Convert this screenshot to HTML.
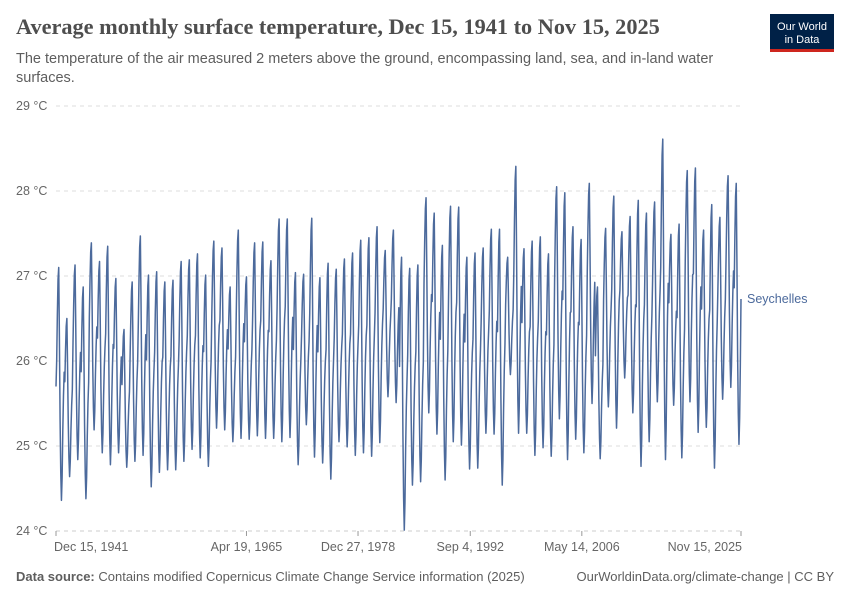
<!DOCTYPE html>
<html><head><meta charset="utf-8">
<style>
body{margin:0;background:#fff;font-family:"Liberation Sans",sans-serif;}
#wrap{position:relative;width:850px;height:600px;overflow:hidden;}
</style></head>
<body>
<div id="wrap">
<svg id="svg" width="850" height="600" xmlns="http://www.w3.org/2000/svg">
<text x="16" y="34" font-family="Liberation Serif,serif" font-size="22.3" font-weight="bold" fill="#4e4e4e">Average monthly surface temperature, Dec 15, 1941 to Nov 15, 2025</text>
<text x="16" y="63" font-size="14.5" fill="#5e5e5e">The temperature of the air measured 2 meters above the ground, encompassing land, sea, and in-land water</text>
<text x="16" y="82" font-size="14.5" fill="#5e5e5e">surfaces.</text>
<g>
<rect x="770" y="14" width="64" height="38" fill="#002147"/>
<rect x="770" y="49" width="64" height="3" fill="#ce261e"/>
<text x="802" y="30" font-size="11" fill="#fff" text-anchor="middle">Our World</text>
<text x="802" y="43" font-size="11" fill="#fff" text-anchor="middle">in Data</text>
</g>
<g id="grid"></g>
<g id="yaxis"></g>
<g id="xaxis"></g>
<path id="line" fill="none" stroke="#4c6a9c" stroke-width="1.5" stroke-linejoin="round"/>
<text id="lbl" x="747" y="303" font-size="12.5" fill="#4c6a9c">Seychelles</text>
<text x="16" y="581" font-size="13" fill="#5e5e5e"><tspan font-weight="bold">Data source:</tspan> Contains modified Copernicus Climate Change Service information (2025)</text>
<text x="834" y="581" font-size="13" fill="#5e5e5e" text-anchor="end">OurWorldinData.org/climate-change | CC BY</text>
</svg>
</div>
<script>
const yTicks=[24,25,26,27,28,29];
const yTickLabels=["24 °C","25 °C","26 °C","27 °C","28 °C","29 °C"];
const xTickMonths=[0,280,444,609,773,1007];
const xTickLabels=["Dec 15, 1941","Apr 19, 1965","Dec 27, 1978","Sep 4, 1992","May 14, 2006","Nov 15, 2025"];
const startValue=25.7;
const annualPeak=[27.1,26.5,27.13,26.87,27.39,27.17,27.35,26.97,26.37,26.93,27.47,27.01,27.05,26.93,26.95,27.17,27.19,27.26,27.01,27.41,27.33,26.87,27.54,26.99,27.39,27.4,27.18,27.67,27.67,27.04,27.02,27.68,26.98,27.15,27.08,27.2,27.27,27.42,27.45,27.58,27.3,27.54,27.22,27.09,27.13,27.92,27.74,27.36,27.82,27.81,27.22,27.27,27.33,27.55,27.55,27.22,28.29,27.32,27.41,27.46,27.26,28.05,27.98,27.58,27.43,28.09,26.87,27.56,27.94,27.52,27.7,27.89,27.74,27.87,28.61,27.49,27.61,28.24,28.27,27.54,27.84,27.69,28.18,28.09];
const annualLow=[24.36,24.64,24.84,24.38,25.19,24.92,24.78,24.92,24.75,24.82,24.89,24.52,24.69,24.72,24.72,24.82,24.96,24.86,24.76,25.21,25.19,25.05,25.09,25.08,25.12,25.09,25.09,25.05,25.1,24.78,25.25,24.87,24.8,24.61,25.05,24.99,24.89,24.92,24.88,25.04,25.58,25.51,24.01,24.54,24.58,25.39,25.14,24.6,25.05,25.01,24.73,24.74,25.15,25.14,24.54,25.84,25.15,25.15,24.89,24.98,24.88,25.32,24.84,25.08,24.92,25.5,24.85,25.46,25.21,25.8,25.39,24.76,25.05,25.52,24.84,25.48,24.86,25.52,25.16,25.22,24.74,25.55,25.69,25.02];
const seasonShape=[0.6,0.8,0.95,1.0,0.7,0.35,0.12,0,0.1,0.3,0.45,0.55];
const lastValue=26.73;

const NS="http://www.w3.org/2000/svg";
const x0=56,x1=741,y0=531,y1=106;
const totalMonths=1007;
const xScale=m=>x0+(x1-x0)*m/totalMonths;
const yScale=v=>y0-(v-24)/(29-24)*(y0-y1);

const series=[startValue];
for(let i=0;i<annualPeak.length;i++){
  for(let m=0;m<12;m++){
    if(series.length>totalMonths) break;
    series.push(annualLow[i]+seasonShape[m]*(annualPeak[i]-annualLow[i]));
  }
}
series[totalMonths]=lastValue;

const grid=document.getElementById('grid');
const yax=document.getElementById('yaxis');
yTicks.forEach((t,i)=>{
  const y=yScale(t);
  if(i>0){
  const l=document.createElementNS(NS,'line');
  
  
  l.setAttribute('x1',x0);l.setAttribute('x2',x1);l.setAttribute('y1',y);l.setAttribute('y2',y);
  l.setAttribute('stroke','#ddd');l.setAttribute('stroke-dasharray','4,4');
  grid.appendChild(l);}
  const tx=document.createElementNS(NS,'text');
  
  
  tx.setAttribute('x',16);tx.setAttribute('y',y+4);
  tx.setAttribute('font-size','12.5');tx.setAttribute('fill','#666');
  tx.textContent=yTickLabels[i];
  yax.appendChild(tx);
});
const base=document.createElementNS(NS,'line');


base.setAttribute('x1',x0);base.setAttribute('x2',x1);base.setAttribute('y1',y0);base.setAttribute('y2',y0);
base.setAttribute('stroke','#ccc');base.setAttribute('stroke-dasharray','4,4');
grid.appendChild(base);
const xax=document.getElementById('xaxis');
xTickMonths.forEach((m,i)=>{
  const x=xScale(m);
  const tk=document.createElementNS(NS,'line');
  
  
  tk.setAttribute('x1',x);tk.setAttribute('x2',x);tk.setAttribute('y1',y0);tk.setAttribute('y2',y0+5);
  tk.setAttribute('stroke','#999');
  xax.appendChild(tk);
  const tx=document.createElementNS(NS,'text');
  
  
  tx.setAttribute('x',i===0?x-2:(i===xTickMonths.length-1?x+1:x));
  tx.setAttribute('y',551);
  tx.setAttribute('text-anchor',i===0?'start':(i===xTickMonths.length-1?'end':'middle'));
  tx.setAttribute('font-size','12.5');tx.setAttribute('fill','#666');
  tx.textContent=xTickLabels[i];
  xax.appendChild(tx);
});
let d='';
series.forEach((v,m)=>{d+=(m?'L':'M')+xScale(m).toFixed(2)+','+yScale(v).toFixed(2);});
document.getElementById('line').setAttribute('d',d);
document.getElementById('lbl').setAttribute('y',yScale(lastValue)+4);
</script>
</body></html>
